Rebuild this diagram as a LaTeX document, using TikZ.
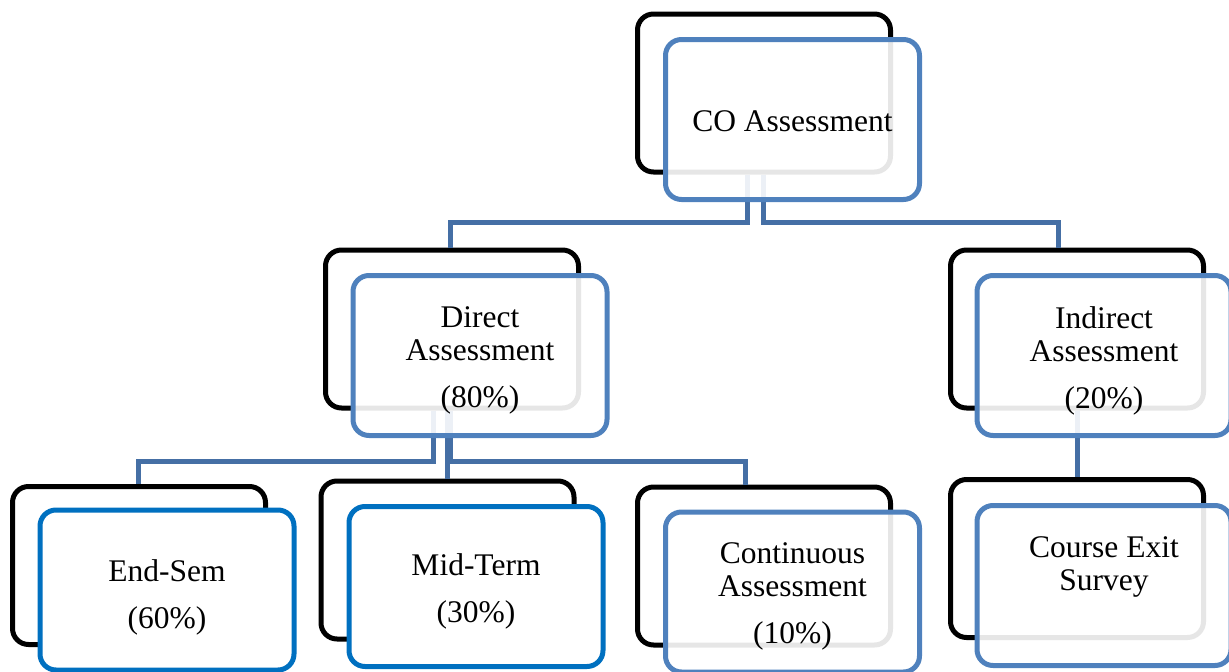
\documentclass[tikz,border=0pt]{standalone}
\usepackage{fontspec}
\setmainfont{Liberation Serif}
\definecolor{accent}{HTML}{4F81BD}
\definecolor{accentdark}{HTML}{0070C0}
\definecolor{connc}{HTML}{456FA5}
\begin{document}
\begin{tikzpicture}[x=1pt,y=-1pt,
  back/.style={rectangle, draw=black, line width=5pt, rounded corners=16pt,
    minimum width=253pt, minimum height=158pt, inner sep=0pt},
  front/.style={rectangle, draw=accent, line width=5pt, rounded corners=16pt,
    minimum width=254pt, minimum height=160pt, inner sep=0pt,
    fill=white, fill opacity=0.9},
  frontsolid/.style={front, draw=accentdark, fill opacity=1},
  txt/.style={align=center, inner sep=0pt, font=\fontsize{31.5}{33}\selectfont},
  conn/.style={draw=connc, line width=5pt}]
\useasboundingbox (0,0) rectangle (1229,672);
% back boxes
\node[back] (cob) at (764,93) {};
\node[back] (dab) at (452,329) {};
\node[back] (iab) at (1077,329) {};
\node[back] (esb) at (139,565.5) {};
\node[back] (mtb) at (447.5,560) {};
\node[back] (cab) at (764,566) {};
\node[back] (ceb) at (1077,558.5) {};
% connectors
\draw[conn] ([xshift=-17pt]cob.south) -- ++(0,48) -| ([xshift=-2pt]dab.north);
\draw[conn] ([xshift=-1pt]cob.south) -- ++(0,48) -| ([xshift=-19pt]iab.north);
\draw[conn] ([xshift=-19pt]dab.south) -- ++(0,51) -| ([xshift=-1pt]esb.north);
\draw[conn] ([xshift=-5pt]dab.south) -- ([xshift=-5pt]dab.south |- mtb.north);
\draw[conn] ([xshift=-2pt]dab.south) -- ++(0,51) -| ([xshift=-19pt]cab.north);
\draw[conn] (iab.south) -- (iab.south |- ceb.north);
% front boxes
\node[front] (co) at (792.5,119.5) {};
\node[front] (da) at (480,355.5) {};
\node[front] (ia) at (1104,355.5) {};
\node[frontsolid] (es) at (167,590) {};
\node[frontsolid] (mt) at (476,586.5) {};
\node[front] (ca) at (792.5,592) {};
\node[front] (ce) at (1104,585.5) {};
% texts
\node[txt] (cot) at ([yshift=-2pt]co.center) {CO Assessment};
\node[txt] (dat) at ([yshift=-5pt]da.center) {Direct\\Assessment\\[14pt](80\%)};
\node[txt] (iat) at ([yshift=-5pt]ia.center) {Indirect\\Assessment\\[14pt](20\%)};
\node[txt] (est) at ([yshift=-7pt]es.center) {End-Sem\\[14pt](60\%)};
\node[txt] (mtt) at ([yshift=-5pt]mt.center) {Mid-Term\\[14pt](30\%)};
\node[txt] (cat) at ([yshift=-4pt]ca.center) {Continuous\\Assessment\\[14pt](10\%)};
\node[txt] (cet) at ([yshift=-5pt]ce.center) {Course Exit\\Survey\\[14pt]\phantom{(20\%)}};
\end{tikzpicture}
\end{document}
